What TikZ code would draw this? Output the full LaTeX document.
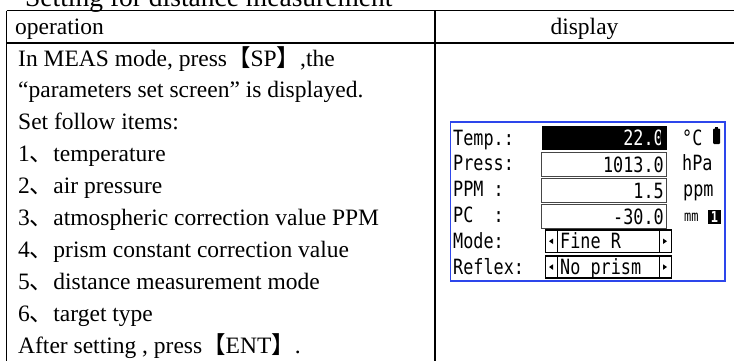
\documentclass[tikz,border=0pt]{standalone}
\usepackage{fontspec}
\setmainfont{Liberation Serif}
\newfontfamily\cjk{Noto Sans CJK SC}
\newfontfamily\lcd{DejaVu Sans Mono}[FakeStretch=0.8]
\definecolor{scrblue}{RGB}{45,70,235}
\definecolor{boxgray}{RGB}{70,70,70}
\tikzset{
  tbl/.style={line width=1.6pt,black},
  body/.style={inner sep=0pt,anchor=base west,font=\fontsize{23.5}{28}\selectfont},
  lcdtxt/.style={inner sep=0pt,anchor=base west,font=\lcd\fontsize{21}{24}\selectfont},
  lcdval/.style={inner sep=0pt,anchor=base east,font=\lcd\fontsize{21}{24}\selectfont},
  valbox/.style={draw=boxgray,line width=0.9pt},
  selbox/.style={draw=black,line width=1.3pt},
}
\begin{document}
\begin{tikzpicture}[x=1pt,y=-1pt]
\useasboundingbox (0,0) rectangle (734,360);
\begin{scope}
\clip (0,0) rectangle (734,360);
% title (cut at top)
\node[inner sep=0pt,anchor=base west,font=\fontsize{27.5}{30}\selectfont] (title) at (25,6) {Setting for distance measurement};
% table lines
\draw[tbl] (6.5,10.5) -- (745,10.5);
\draw[tbl] (6.5,43) -- (745,43);
\draw[tbl] (6.5,10.5) -- (6.5,380);
\draw[tbl] (435,10.5) -- (435,380);
% header
\node[body] (hop) at (15,34) {operation};
\node[inner sep=0pt,anchor=base,font=\fontsize{23.5}{28}\selectfont] (hdisp) at (584.5,34) {display};
% operation text
\node[body] (l0) at (18,66) {In MEAS mode, press{\cjk 【}SP{\cjk 】},the};
\node[body] (l1) at (18,97.9) {“parameters set screen” is displayed.};
\node[body] (l2) at (18,129.8) {Set follow items:};
\node[body] (l3) at (18,161.7) {1{\cjk 、}temperature};
\node[body] (l4) at (18,193.6) {2{\cjk 、}air pressure};
\node[body] (l5) at (18,225.5) {3{\cjk 、}atmospheric correction value PPM};
\node[body] (l6) at (18,257.4) {4{\cjk 、}prism constant correction value};
\node[body] (l7) at (18,289.3) {5{\cjk 、}distance measurement mode};
\node[body] (l8) at (18,321.2) {6{\cjk 、}target type};
\node[body] (l9) at (18,353.1) {After setting , press{\cjk 【}ENT{\cjk 】}.};
\end{scope}
% screen
\draw[scrblue,line width=1.3pt] (450.5,122) rectangle (725,281);
% labels
\node[lcdtxt] (tT) at (453,145) {Temp.:};
\node[lcdtxt] (tP) at (453,170.5) {Press:};
\node[lcdtxt] (tM) at (453,196) {PPM :};
\node[lcdtxt] (tC) at (453,222) {PC \ :};
\node[lcdtxt] (tO) at (453,248) {Mode:};
\node[lcdtxt] (tR) at (453,274) {Reflex:};
% value boxes
\fill[black] (541.5,126) rectangle (666.5,150);
\draw[valbox] (541.5,152) rectangle (666.5,176.5);
\draw[valbox] (541.5,178) rectangle (666.5,202.5);
\draw[valbox] (541.5,204) rectangle (666.5,228);
\node[lcdval,text=white] (vT) at (664,145) {22.0};
\fill[black] (661,129) rectangle (666.5,148);
\node[lcdval] (vP) at (664,172) {1013.0};
\node[lcdval] (vM) at (664,198) {1.5};
\node[lcdval] (vC) at (664,224) {-30.0};
% mode box
\draw[selbox] (545.5,230) rectangle (671.5,252.5);
\draw[selbox] (557.5,230) -- (557.5,252.5);
\draw[selbox] (659.5,230) -- (659.5,252.5);
\fill (549,241.2) -- (553,238.5) -- (553,244) -- cycle;
\fill (667,241.2) -- (663,238.5) -- (663,244) -- cycle;
\node[lcdtxt] (mO) at (560,248) {Fine R};
% reflex box
\draw[selbox] (545.5,256) rectangle (671.5,278);
\draw[selbox] (557.5,256) -- (557.5,278);
\draw[selbox] (659.5,256) -- (659.5,278);
\fill (549,267) -- (553,264.3) -- (553,269.8) -- cycle;
\fill (667,267) -- (663,264.3) -- (663,269.8) -- cycle;
\node[lcdtxt] (mR) at (560,274) {No prism};
% units
\node[lcdtxt] (uT) at (682,145) {°C};
\fill[black,rounded corners=1pt] (713,128.5) rectangle (720,144);
\fill[black] (715,126.5) rectangle (718,129);
\node[lcdtxt] (uP) at (682,170.5) {hPa};
\node[lcdtxt] (uM) at (683,196) {ppm};
\node[inner sep=0pt,anchor=base west,font=\lcd\fontsize{15}{18}\selectfont] (uC) at (684,221) {mm};
\fill[black] (708,210) rectangle (721,224);
\node[inner sep=0pt,anchor=base,text=white,font=\lcd\bfseries\fontsize{15}{18}\selectfont] (one) at (714.5,222) {1};
\end{tikzpicture}
\end{document}
